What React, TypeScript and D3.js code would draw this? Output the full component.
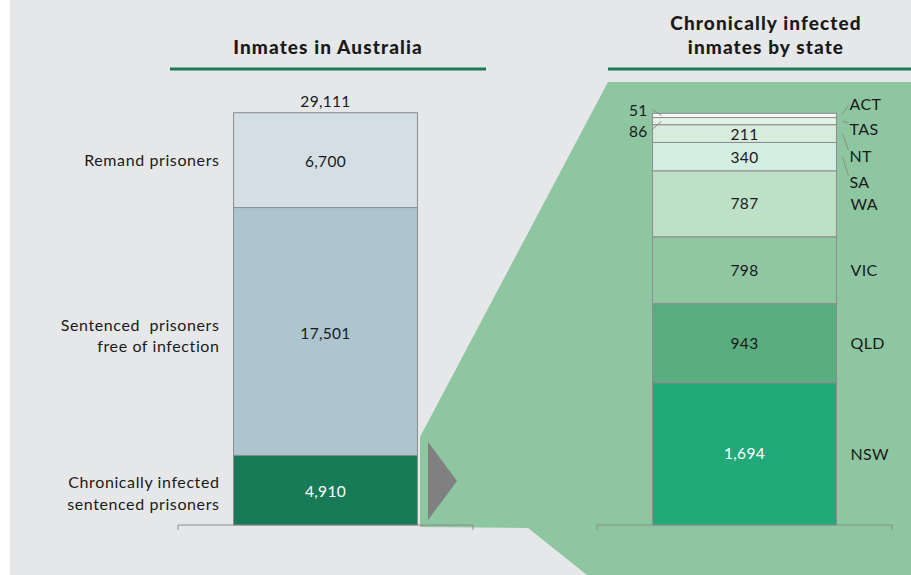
import React, { useEffect, useRef } from 'react';
import * as d3 from 'd3';

// left bar: inmates in Australia (top to bottom)
const inmateGroups = ['Remand prisoners', 'Sentenced  prisoners\nfree of infection', 'Chronically infected\nsentenced prisoners'];
const inmateValues = [6700, 17501, 4910];
const inmateTotal = 29111;

// right bar: chronically infected by state (top to bottom)
const states = ['ACT', 'TAS', 'NT', 'SA', 'WA', 'VIC', 'QLD', 'NSW'];
const stateValues = [51, 86, 211, 340, 787, 798, 943, 1694];

const inmateColors = ['#d3dfe4', '#acc5ce', '#177b57'];
const stateColors = ['#f3f8f4', '#e4f2e8', '#d7ecdd', '#d3eee3', '#bee0c6', '#8fc7a1', '#5aad80', '#21a977'];

const W = 911;
const H = 575;
const FONT = 'Lato, "Open Sans", sans-serif';

const App = () => {
  const ref = useRef<SVGSVGElement>(null);

  useEffect(() => {
    const svg = d3.select(ref.current);
    svg.selectAll('*').remove();

    svg.append('rect').attr('x', 10).attr('y', 0).attr('width', W - 10).attr('height', H).attr('fill', '#e6e7e9');

    // zoom-out green backdrop
    svg
      .append('path')
      .attr('d', d3.line()([[608, 82], [W, 82], [W, H], [587, H], [528, 528], [420, 527], [420, 437]]) + 'Z')
      .attr('fill', '#8dc6a0');

    const base = 525;
    const yL = d3.scaleLinear().domain([0, inmateTotal]).range([base, 112.7]);
    const yR = d3.scaleLinear().domain([0, d3.sum(stateValues)]).range([base, 113.3]);
    const xL = d3.scaleBand().domain(['all']).range([178, 473]).paddingOuter(0.302);
    const xR = d3.scaleBand().domain(['state']).range([597, 892]).paddingOuter(0.302);

    // stack from the top: cumulative sums from the bottom
    const cumFromBottom = (vals: number[]) => {
      const out: { y0: number; y1: number }[] = new Array(vals.length);
      let acc = 0;
      for (let i = vals.length - 1; i >= 0; i--) {
        out[i] = { y0: acc, y1: acc + vals[i] };
        acc += vals[i];
      }
      return out;
    };

    const leftStack = cumFromBottom(inmateValues);
    const rightStack = cumFromBottom(stateValues);
    const fmt = d3.format(',');

    // axis baselines with end ticks
    const baseline = (x0: number, x1: number) => {
      svg
        .append('path')
        .attr('d', `M${x0},${base + 5}V${base}H${x1}V${base + 5}`)
        .attr('fill', 'none')
        .attr('stroke', '#8c8c8c')
        .attr('stroke-width', 1);
    };
    baseline(178, 473);
    baseline(597, 892);

    // left bar
    const lx = xL('all')!;
    const lw = xL.bandwidth();
    const gl = svg.append('g');
    gl.selectAll('rect')
      .data(leftStack)
      .enter()
      .append('rect')
      .attr('x', lx)
      .attr('width', lw)
      .attr('y', (d) => yL(d.y1))
      .attr('height', (d) => yL(d.y0) - yL(d.y1))
      .attr('fill', (_d, i) => inmateColors[i])
      .attr('stroke', '#8c8c8c')
      .attr('stroke-width', 1);

    gl.selectAll('text.val')
      .data(leftStack)
      .enter()
      .append('text')
      .attr('x', lx + lw / 2)
      .attr('y', (d) => yL((d.y0 + d.y1) / 2) + 5 + 2)
      .attr('text-anchor', 'middle')
      .attr('font-family', FONT)
      .attr('font-size', 15.5)
      .attr('letter-spacing', 0.3)
      .attr('fill', (_d, i) => (i === 2 ? '#ffffff' : '#1a1a1a'))
      .text((_d, i) => fmt(inmateValues[i]));

    svg
      .append('text')
      .attr('x', lx + lw / 2)
      .attr('y', yL(inmateTotal) - 6)
      .attr('text-anchor', 'middle')
      .attr('font-family', FONT)
      .attr('font-size', 15.5)
      .attr('letter-spacing', 0.3)
      .attr('fill', '#1a1a1a')
      .text(fmt(inmateTotal));

    // category labels on the left
    leftStack.forEach((d, i) => {
      const lines = inmateGroups[i].split('\n');
      const cy = yL((d.y0 + d.y1) / 2) + 6;
      const t = svg
        .append('text')
        .attr('text-anchor', 'end')
        .attr('font-family', FONT)
        .attr('font-size', 16)
        .attr('letter-spacing', 0.6)
        .attr('style', 'white-space: pre')
        .attr('fill', '#1a1a1a');
      lines.forEach((ln, j) => {
        t.append('tspan')
          .attr('x', lx - 14)
          .attr('y', cy + (j - (lines.length - 1) / 2) * 21.5 + (i === 2 ? 3 : 0) + (i === 1 ? 4 : 0))
          .text(ln);
      });
    });

    // arrow
    svg.append('path').attr('d', 'M428,442L457,481L428,520Z').attr('fill', '#808080');

    // right bar
    const rx = xR('state')!;
    const rw = xR.bandwidth();
    const gr = svg.append('g');
    gr.selectAll('rect')
      .data(rightStack)
      .enter()
      .append('rect')
      .attr('x', rx)
      .attr('width', rw)
      .attr('y', (d) => yR(d.y1))
      .attr('height', (d) => yR(d.y0) - yR(d.y1))
      .attr('fill', (_d, i) => stateColors[i])
      .attr('stroke', '#8c8c8c')
      .attr('stroke-width', 1);

    // value labels: inside for larger segments, outside left with leaders for tiny ones
    rightStack.forEach((d, i) => {
      const mid = yR((d.y0 + d.y1) / 2);
      const v = stateValues[i];
      if (i < 2) {
        const ty = i === 0 ? 110 : 131;
        svg.append('text')
          .attr('x', rx - 5)
          .attr('y', ty + 5.5)
          .attr('text-anchor', 'end')
          .attr('font-family', FONT)
          .attr('font-size', 15.5)
          .attr('letter-spacing', 0.3)
          .attr('fill', '#1a1a1a')
          .text(fmt(v));
        svg.append('line')
          .attr('x1', rx - 1)
          .attr('y1', ty - 1)
          .attr('x2', rx + 9)
          .attr('y2', mid)
          .attr('stroke', '#8c8c8c');
      } else {
        svg.append('text')
          .attr('x', rx + rw / 2)
          .attr('y', mid + 5.5 + (i < 4 ? 1 : 0))
          .attr('text-anchor', 'middle')
          .attr('font-family', FONT)
          .attr('font-size', 15.5)
          .attr('letter-spacing', 0.3)
          .attr('fill', i === 7 ? '#ffffff' : '#1a1a1a')
          .text(fmt(v));
      }

      // state names on the right
      const labelY = i < 4 ? [104, 129, 156, 182][i] : mid;
      svg.append('text')
        .attr('x', rx + rw + (i < 4 ? 13 : 14))
        .attr('y', labelY + 6)
        .attr('font-family', FONT)
        .attr('font-size', 16)
        .attr('letter-spacing', 0.4)
        .attr('fill', '#1a1a1a')
        .text(states[i]);
      if (i < 4) {
        svg.append('line')
          .attr('x1', rx + rw + 6)
          .attr('y1', i === 0 ? mid - 1 : mid)
          .attr('x2', rx + rw + 12)
          .attr('y2', i === 0 ? labelY + 1 : labelY - 6)
          .attr('stroke', '#8c8c8c');
      }
    });

    // titles
    const title = (x: number, lines: string[], y0: number, x0: number, x1: number) => {
      lines.forEach((ln, j) => {
        svg.append('text')
          .attr('x', x)
          .attr('y', y0 + j * 24)
          .attr('text-anchor', 'middle')
          .attr('font-family', FONT)
          .attr('font-weight', 900)
          .attr('font-size', 19)
          .attr('letter-spacing', 1.1)
          .attr('fill', '#1a1a1a')
          .text(ln);
      });
      svg.append('rect').attr('x', x0).attr('y', 67.5).attr('width', x1 - x0).attr('height', 3).attr('fill', '#1a7a55');
    };
    title(328, ['Inmates in Australia'], 54, 170, 486);
    title(766, ['Chronically infected', 'inmates by state'], 30, 608, W);
  }, []);

  return (
    <svg
      ref={ref}
      width={W}
      height={H}
      style={{ position: 'absolute', left: 0, top: 0, display: 'block' }}
    />
  );
};

export default App;
